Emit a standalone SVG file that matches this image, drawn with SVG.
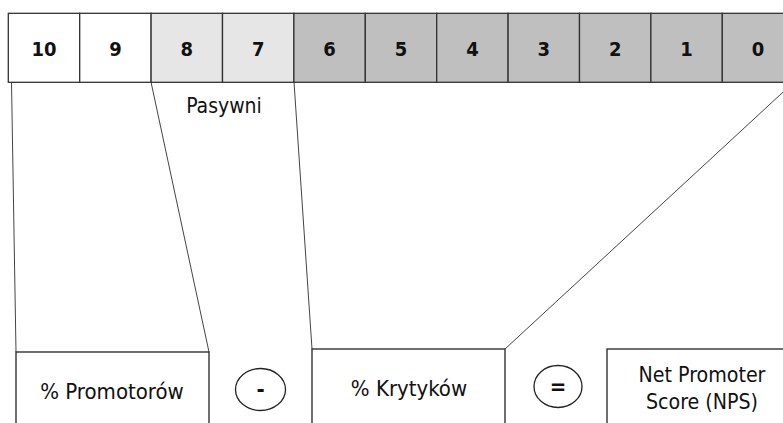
<svg xmlns="http://www.w3.org/2000/svg" width="783" height="423" viewBox="0 0 783 423">
<style>
.cell{stroke:#333;stroke-width:1.3}
.w{fill:#fff}.l{fill:#e6e6e6}.d{fill:#bfbfbf}
.num{font-family:"DejaVu Sans Condensed","DejaVu Sans",sans-serif;font-stretch:condensed;font-weight:bold;font-size:20px;fill:#111;text-anchor:middle}
.lbl{font-family:"DejaVu Sans Condensed","DejaVu Sans",sans-serif;font-stretch:condensed;font-size:22px;fill:#111;text-anchor:middle}
.op{font-family:"DejaVu Sans Condensed","DejaVu Sans",sans-serif;font-stretch:condensed;font-weight:bold;font-size:22px;fill:#111;text-anchor:middle}
.box{fill:#fff;stroke:#222;stroke-width:1.3}
.conn{stroke:#444;stroke-width:1;fill:none}
</style>
<rect width="783" height="423" fill="#fff"/>
<g id="connectors">
<line class="conn" x1="11.5" y1="82" x2="16" y2="352"/>
<line class="conn" x1="151" y1="82" x2="209" y2="352"/>
<line class="conn" x1="294" y1="82" x2="312" y2="349"/>
<line class="conn" x1="794" y1="82" x2="505" y2="349"/>
</g>
<g id="scale">
<g id="c10"><rect class="cell w" x="8.3" y="13.3" width="71.4" height="69"/><text class="num" x="44" y="56">10</text></g>
<g id="c9"><rect class="cell w" x="79.7" y="13.3" width="71.4" height="69"/><text class="num" x="115.4" y="56">9</text></g>
<g id="c8"><rect class="cell l" x="151.1" y="13.3" width="71.4" height="69"/><text class="num" x="186.8" y="56">8</text></g>
<g id="c7"><rect class="cell l" x="222.5" y="13.3" width="71.4" height="69"/><text class="num" x="258.2" y="56">7</text></g>
<g id="c6"><rect class="cell d" x="293.9" y="13.3" width="71.4" height="69"/><text class="num" x="329.6" y="56">6</text></g>
<g id="c5"><rect class="cell d" x="365.3" y="13.3" width="71.4" height="69"/><text class="num" x="401" y="56">5</text></g>
<g id="c4"><rect class="cell d" x="436.7" y="13.3" width="71.4" height="69"/><text class="num" x="472.4" y="56">4</text></g>
<g id="c3"><rect class="cell d" x="508.1" y="13.3" width="71.4" height="69"/><text class="num" x="543.8" y="56">3</text></g>
<g id="c2"><rect class="cell d" x="579.5" y="13.3" width="71.4" height="69"/><text class="num" x="615.2" y="56">2</text></g>
<g id="c1"><rect class="cell d" x="650.9" y="13.3" width="71.4" height="69"/><text class="num" x="686.6" y="56">1</text></g>
<g id="c0"><rect class="cell d" x="722.3" y="13.3" width="71.4" height="69"/><text class="num" x="758" y="56">0</text></g>
</g>
<g id="pasywni"><text class="lbl" x="224" y="113" style="font-size:21px">Pasywni</text></g>
<g id="promotorzy"><rect class="box" x="16" y="352" width="193" height="100"/><text class="lbl" x="112" y="399">% Promotorów</text></g>
<g id="minus"><ellipse class="box" cx="260.5" cy="389.5" rx="25" ry="21"/><text class="op" x="260.5" y="397">-</text></g>
<g id="krytycy"><rect class="box" x="312" y="349" width="193" height="100"/><text class="lbl" x="409" y="396">% Krytyków</text></g>
<g id="equals"><ellipse class="box" cx="558" cy="386.5" rx="24" ry="21"/><text class="op" x="558" y="394">=</text></g>
<g id="nps"><rect class="box" x="607" y="349" width="193" height="100"/><text class="lbl" x="702" y="382" style="font-size:21.2px">Net Promoter</text><text class="lbl" x="702" y="409" style="font-size:21.2px">Score (NPS)</text></g>
</svg>
